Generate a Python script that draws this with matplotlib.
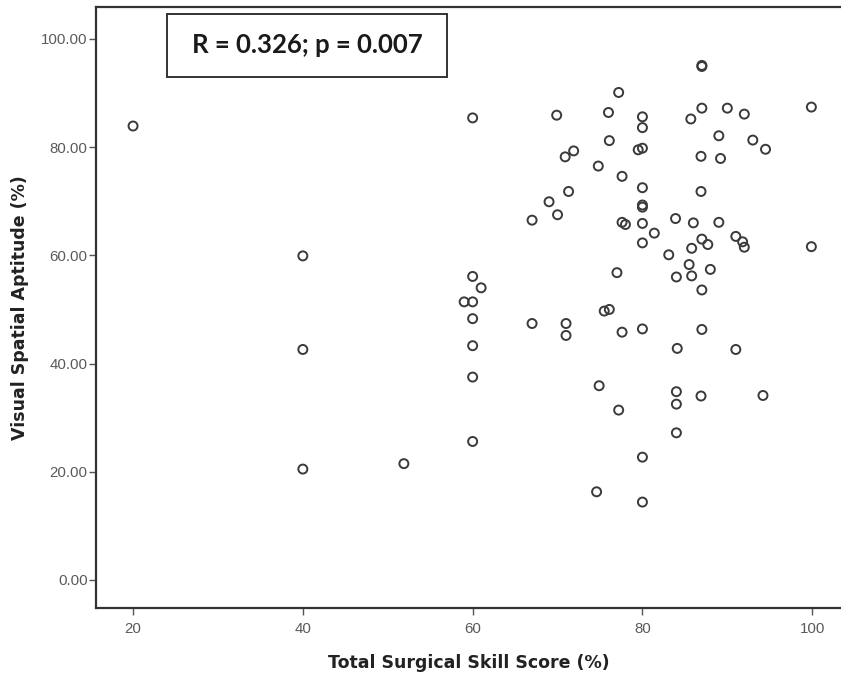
import matplotlib
matplotlib.use("Agg")
import matplotlib.pyplot as plt
from matplotlib.patches import Rectangle
from matplotlib.ticker import FormatStrFormatter

# 점수 데이터 (x: 수술 술기 점수, y: 시공간 능력)
skill_score = [20, 40, 40, 40, 51.9, 59, 60, 60, 60, 61,
               60, 60, 60, 60, 67, 67, 69, 70, 69.9, 70.9,
               71.9, 71.3, 71, 71, 74.6, 74.9, 74.8, 75.5, 76.1, 76,
               76.1, 77.2, 77, 77.2, 77.6, 77.6, 78, 77.6, 79.5, 80,
               80, 80, 80, 80, 80, 80, 80, 80, 80, 80,
               81.4, 83.1, 83.9, 84, 84.1, 84, 84, 84, 85.7, 85.8,
               85.5, 85.8, 86, 87, 87, 87, 86.9, 86.9, 87, 87.7,
               88, 87, 87, 86.9, 89, 89.2, 89, 90, 92, 93,
               94.5, 91, 91.8, 92, 91, 94.2, 99.9, 99.9]
visual_aptitude = [83.9, 59.9, 42.6, 20.5, 21.5, 51.4, 51.4, 85.4, 56.1, 54.0,
                   48.3, 43.3, 37.5, 25.6, 66.5, 47.4, 69.9, 67.5, 85.9, 78.2,
                   79.3, 71.8, 47.4, 45.2, 16.3, 35.9, 76.5, 49.7, 50.0, 86.4,
                   81.2, 90.1, 56.8, 31.4, 74.6, 66.1, 65.7, 45.8, 79.5, 79.8,
                   85.6, 83.6, 72.5, 69.3, 68.9, 65.9, 62.3, 46.4, 22.7, 14.4,
                   64.1, 60.1, 66.8, 56.0, 42.8, 34.8, 32.5, 27.2, 85.2, 61.3,
                   58.3, 56.2, 66.0, 94.9, 95.1, 87.2, 78.3, 71.8, 63.0, 62.0,
                   57.4, 53.6, 46.3, 34.0, 82.1, 77.9, 66.1, 87.2, 86.1, 81.3,
                   79.6, 63.5, 62.5, 61.5, 42.6, 34.1, 87.4, 61.6]

x_ticks = [20, 40, 60, 80, 100]
y_ticks = [0, 20, 40, 60, 80, 100]
stat_text = "R = 0.326; p = 0.007"

label_font = ['Liberation Sans Narrow', 'DejaVu Sans']

fig = plt.figure(figsize=(8.41, 6.77), dpi=100)
ax = fig.add_axes([0.1142, 0.1019, 0.8858, 0.8878])

ax.scatter(skill_score, visual_aptitude, s=42, facecolors='none',
           edgecolors='#3a3a3a', linewidths=1.4)

ax.set_xlim(15.64, 103.39)
ax.set_ylim(-5.18, 105.9)
ax.set_xticks(x_ticks)
ax.set_yticks(y_ticks)
ax.yaxis.set_major_formatter(FormatStrFormatter('%.2f'))

# SPSS 스타일 축
for side in ['left', 'bottom', 'top']:
    ax.spines[side].set_color('#333333')
    ax.spines[side].set_linewidth(1.6)
ax.spines['right'].set_visible(False)
ax.tick_params(axis='both', direction='out', length=5, width=1,
               color='#555555', labelcolor='#5a5a5a', labelsize=10.8)
ax.tick_params(axis='x', pad=5)
ax.tick_params(axis='y', pad=1)
for lbl in ax.get_xticklabels() + ax.get_yticklabels():
    lbl.set_family(['Liberation Sans', 'DejaVu Sans'])

ax.set_xlabel('Total Surgical Skill Score (%)', family=label_font,
              fontweight='bold', fontsize=12.5, color='#222222', labelpad=13)
ax.set_ylabel('Visual Spatial Aptitude (%)', family=label_font,
              fontweight='bold', fontsize=12.5, color='#222222', labelpad=9)

# 상관계수 박스
ax.add_patch(Rectangle((0.0953, 0.8835), 0.3758, 0.1049, transform=ax.transAxes,
                       facecolor='white', edgecolor='#333333', linewidth=1.4,
                       zorder=3))
ax.text(0.2832, 0.936, stat_text, transform=ax.transAxes,
        ha='center', va='center', fontsize=18.5, fontweight='bold',
        family=['Lato', 'DejaVu Sans'], color='#1a1a1a', zorder=4)

fig.savefig('out.png', dpi=100)
